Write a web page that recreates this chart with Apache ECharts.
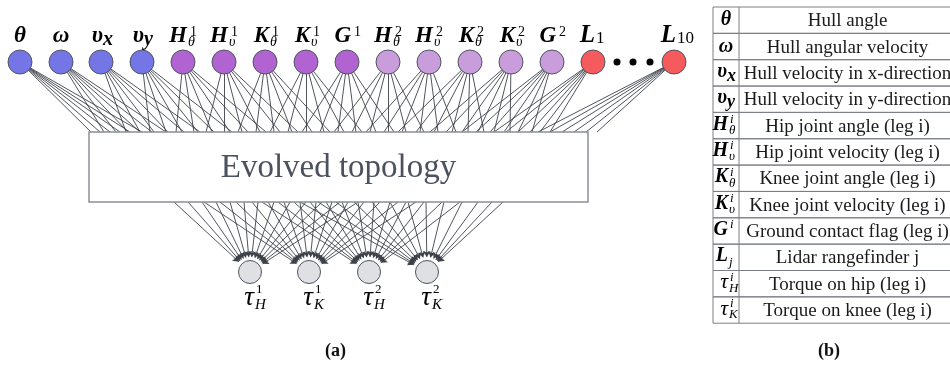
<!DOCTYPE html>
<html>
<head>
<meta charset="utf-8">
<script src="https://cdn.jsdelivr.net/npm/echarts@6/dist/echarts.min.js"></script>
<style>
  html, body { margin: 0; background: #fff; }
  #main { width: 950px; height: 367px; }
</style>
</head>
<body>
<div id="main"></div>
<script>
// input layer (x position of each sensor node, in pixel-like data units)
const inputX = [20, 61, 101, 142, 183, 224, 265, 306, 347, 388, 429, 470, 511, 552, 593, 674];
const inputMain = ['θ', 'ω', 'υ', 'υ', 'H', 'H', 'K', 'K', 'G', 'H', 'H', 'K', 'K', 'G', 'L', 'L'];
const inputSup = ['', '', '', '', '1', '1', '1', '1', '1', '2', '2', '2', '2', '2', '', ''];
const inputSub = ['', '', 'x', 'y', 'θ', 'υ', 'θ', 'υ', '', 'θ', 'υ', 'θ', 'υ', '', '1', '10'];
const inputGroup = ['hull', 'hull', 'hull', 'hull', 'leg1', 'leg1', 'leg1', 'leg1', 'leg1',
  'leg2', 'leg2', 'leg2', 'leg2', 'leg2', 'lidar', 'lidar'];
// where each input's connections land on the top of the box
const inputTargets = [
  [91, 100, 110, 120, 130, 142],
  [104, 116, 128, 140, 152, 166],
  [126, 140, 154, 168, 184, 200],
  [150, 166, 182, 198, 214, 232],
  [176, 194, 212, 230, 248, 266],
  [206, 224, 242, 260, 280, 298],
  [238, 256, 274, 292, 312, 330],
  [270, 288, 306, 324, 344, 362],
  [302, 320, 338, 356, 376, 394],
  [334, 352, 370, 388, 406, 424],
  [366, 384, 402, 420, 438, 456],
  [398, 416, 434, 452, 468, 484],
  [430, 446, 462, 478, 494, 510],
  [462, 476, 490, 504, 518, 532],
  [494, 506, 518, 530, 540, 550],
  [538, 550, 562, 574, 586, 597]
];
const dotsX = [617, 633, 650];

// output layer
const outputX = [250, 309, 369, 427];
const outputSup = ['1', '1', '2', '2'];
const outputSub = ['H', 'K', 'H', 'K'];
// where each output's connections leave the bottom of the box
const outputSources = [
  [174, 188, 202, 216, 230, 244, 258, 274, 290, 306, 322, 340, 358],
  [204, 220, 236, 252, 268, 284, 300, 316, 332, 348, 364, 380, 398, 416],
  [262, 278, 294, 310, 326, 342, 358, 374, 390, 406, 424, 442, 460],
  [300, 318, 336, 354, 372, 390, 408, 426, 444, 462, 478, 492, 503]
];

// table (b)
const tableSym = ['θ', 'ω', 'υ', 'υ', 'H', 'H', 'K', 'K', 'G', 'L', 'τ', 'τ'];
const tableSup = ['', '', '', '', 'i', 'i', 'i', 'i', 'i', '', 'i', 'i'];
const tableSub = ['', '', 'x', 'y', 'θ', 'υ', 'θ', 'υ', '', 'j', 'H', 'K'];
const tableDesc = ['Hull angle', 'Hull angular velocity', 'Hull velocity in x-direction',
  'Hull velocity in y-direction', 'Hip joint angle (leg i)', 'Hip joint velocity (leg i)',
  'Knee joint angle (leg i)', 'Knee joint velocity (leg i)', 'Ground contact flag (leg i)',
  'Lidar rangefinder j', 'Torque on hip (leg i)', 'Torque on knee (leg i)'];

const groupColor = { hull: '#7476e6', leg1: '#b063d1', leg2: '#c99cdb', lidar: '#f55b5c' };
const serif = '"Liberation Serif", "DejaVu Serif", serif';
const lineColor = '#3d4149';

const nodeY = 62, labelY = 36;
const box = [89, 132, 588, 202];
const outY = 272, nodeR = 12;
const table = { left: 713, mid: 739, right: 956, top: 7, rowH: 26.35 };

const chart = echarts.init(document.getElementById('main'));

// edges
const inLines = [];
inputX.forEach((x, i) => {
  inputTargets[i].forEach(t => inLines.push({ coords: [[x, nodeY], [t, box[1]]] }));
});
const outLines = [];
outputX.forEach((x, i) => {
  outputSources[i].forEach(s => {
    const dx = x - s, dy = outY - box[3];
    const len = Math.sqrt(dx * dx + dy * dy);
    const k = (nodeR + 3) / len;
    outLines.push({ coords: [[s, box[3]], [x - dx * k, outY - dy * k]] });
  });
});

const isDigit = s => /^[0-9]+$/.test(s);
const labelSeries = data => ({
  type: 'scatter', symbolSize: 1, z: 5, silent: true,
  itemStyle: { color: 'transparent' },
  label: { show: true, position: 'inside', color: '#000', opacity: 1, textBorderWidth: 0, fontFamily: serif },
  data: data
});

// input labels
const mainLbl = [], supLbl = [], subLbl = [];
inputX.forEach((x, i) => {
  const split = inputSup[i] ? 4 : 2;
  const scripted = inputSup[i] || inputSub[i];
  const m = inputMain[i];
  mainLbl.push({
    value: [x, labelY],
    label: {
      formatter: m, fontSize: m === 'L' ? 25 : 23, fontWeight: 'bold', fontStyle: 'italic',
      align: scripted ? 'right' : 'center', offset: [scripted ? split : 0, 0]
    }
  });
  if (inputSup[i]) supLbl.push({
    value: [x, 32],
    label: { formatter: inputSup[i], fontSize: 14, align: 'left', offset: [split + 3, 0] }
  });
  if (inputSub[i]) {
    const s = inputSub[i];
    const big = s === 'x' || s === 'y';
    subLbl.push({
      value: [x, big ? 40 : 42],
      label: {
        formatter: s, fontSize: big ? 20 : (isDigit(s) ? 17 : 14),
        fontStyle: isDigit(s) ? 'normal' : 'italic',
        fontWeight: big ? 'bold' : 'normal',
        align: 'left', offset: [split + (big ? 0 : 1), isDigit(s) ? -3 : 0]
      }
    });
  }
});
// output labels
outputX.forEach((x, i) => {
  mainLbl.push({ value: [x, 298], label: { formatter: 'τ', fontSize: 27, fontStyle: 'italic', align: 'right', offset: [4, 0] } });
  supLbl.push({ value: [x, 290], label: { formatter: outputSup[i], fontSize: 13, align: 'left', offset: [6, 0] } });
  subLbl.push({ value: [x, 305], label: { formatter: outputSub[i], fontSize: 15, fontStyle: 'italic', align: 'left', offset: [5, 0] } });
});

function renderBox(params, api) {
  const p0 = api.coord([api.value(0), api.value(1)]);
  const p1 = api.coord([api.value(2), api.value(3)]);
  return {
    type: 'group', children: [
      { type: 'rect', shape: { x: p0[0], y: p0[1], width: p1[0] - p0[0], height: p1[1] - p0[1] },
        style: { fill: '#fff', stroke: '#8b8f97', lineWidth: 1.5 } },
      { type: 'text', style: { text: 'Evolved topology', x: (p0[0] + p1[0]) / 2, y: (p0[1] + p1[1]) / 2 + 1,
        align: 'center', verticalAlign: 'middle', font: '33px ' + serif, fill: '#4b515d' } }
    ]
  };
}

function renderRow(params, api) {
  const i = api.value(0);
  const a = api.coord([table.left, table.top + i * table.rowH]);
  const b = api.coord([table.right, table.top + (i + 1) * table.rowH]);
  const m = api.coord([table.mid, 0])[0];
  const cy = (a[1] + b[1]) / 2;
  const sc = (a[0] + m) / 2;
  const scripted = tableSup[i] || tableSub[i];
  const sym = tableSym[i];
  const split = sym === 'υ' ? sc + 1 : sc + 2;
  const children = [
    { type: 'rect', shape: { x: a[0], y: a[1], width: b[0] - a[0], height: b[1] - a[1] },
      style: { fill: 'none', stroke: '#7a7e86', lineWidth: 1 } },
    { type: 'line', shape: { x1: m, y1: a[1], x2: m, y2: b[1] }, style: { stroke: '#7a7e86', lineWidth: 1 } },
    { type: 'text', style: { text: tableDesc[i], x: (m + b[0]) / 2, y: cy + 1, align: 'center', verticalAlign: 'middle',
      font: '19px ' + serif, fill: '#1a1a1a' } },
    { type: 'text', style: { text: sym, x: scripted ? split : sc, y: cy + (scripted ? -1 : 0),
      align: scripted ? 'right' : 'center', verticalAlign: 'middle',
      font: (sym === 'τ' ? 'italic 22px ' : 'italic bold 20px ') + serif, fill: '#000' } }
  ];
  if (tableSup[i]) children.push({ type: 'text', style: { text: tableSup[i], x: split + 2, y: cy - 6,
    align: 'left', verticalAlign: 'middle', font: 'italic 13px ' + serif, fill: '#000' } });
  if (tableSub[i]) {
    const big = tableSub[i] === 'x' || tableSub[i] === 'y';
    children.push({ type: 'text', style: { text: tableSub[i], x: split + (big ? 0 : 1), y: cy + (big ? 3 : 5),
      align: 'left', verticalAlign: 'middle', font: 'italic ' + (big ? 'bold 18px ' : '13px ') + serif, fill: '#000' } });
  }
  return { type: 'group', children: children };
}

const option = {
  animation: false,
  backgroundColor: '#fff',
  grid: { left: 0, right: 0, top: 0, bottom: 0 },
  xAxis: { type: 'value', min: 0, max: 950, show: false },
  yAxis: { type: 'value', min: 0, max: 367, inverse: true, show: false },
  graphic: [
    { type: 'text', left: 325, top: 342, style: { text: '(a)', font: 'bold 18px ' + serif, fill: '#111' } },
    { type: 'text', left: 818, top: 342, style: { text: '(b)', font: 'bold 18px ' + serif, fill: '#111' } }
  ],
  series: [
    { type: 'lines', coordinateSystem: 'cartesian2d', z: 1, silent: true,
      lineStyle: { color: lineColor, width: 0.9, opacity: 1 }, data: inLines },
    { type: 'lines', coordinateSystem: 'cartesian2d', z: 1, silent: true,
      symbol: ['none', 'arrow'], symbolSize: [0, 6],
      lineStyle: { color: lineColor, width: 0.9, opacity: 1 }, data: outLines },
    { type: 'custom', z: 2, silent: true, renderItem: renderBox, data: [box] },
    { type: 'scatter', z: 3, silent: true, symbolSize: nodeR * 2,
      itemStyle: { borderColor: '#505560', borderWidth: 1, opacity: 1 },
      data: inputX.map((x, i) => ({ value: [x, nodeY], itemStyle: { color: groupColor[inputGroup[i]] } })) },
    { type: 'scatter', z: 3, silent: true, symbolSize: nodeR * 2 - 1,
      itemStyle: { color: '#dfe0e4', borderColor: '#505560', borderWidth: 1, opacity: 1 },
      data: outputX.map(x => [x, outY]) },
    { type: 'scatter', z: 3, silent: true, symbolSize: 7, itemStyle: { color: '#000', opacity: 1 },
      data: dotsX.map(x => [x, nodeY]) },
    labelSeries(mainLbl), labelSeries(supLbl), labelSeries(subLbl),
    { type: 'custom', z: 2, silent: true, renderItem: renderRow, data: tableDesc.map((d, i) => [i]) }
  ]
};
chart.setOption(option);
</script>
</body>
</html>
